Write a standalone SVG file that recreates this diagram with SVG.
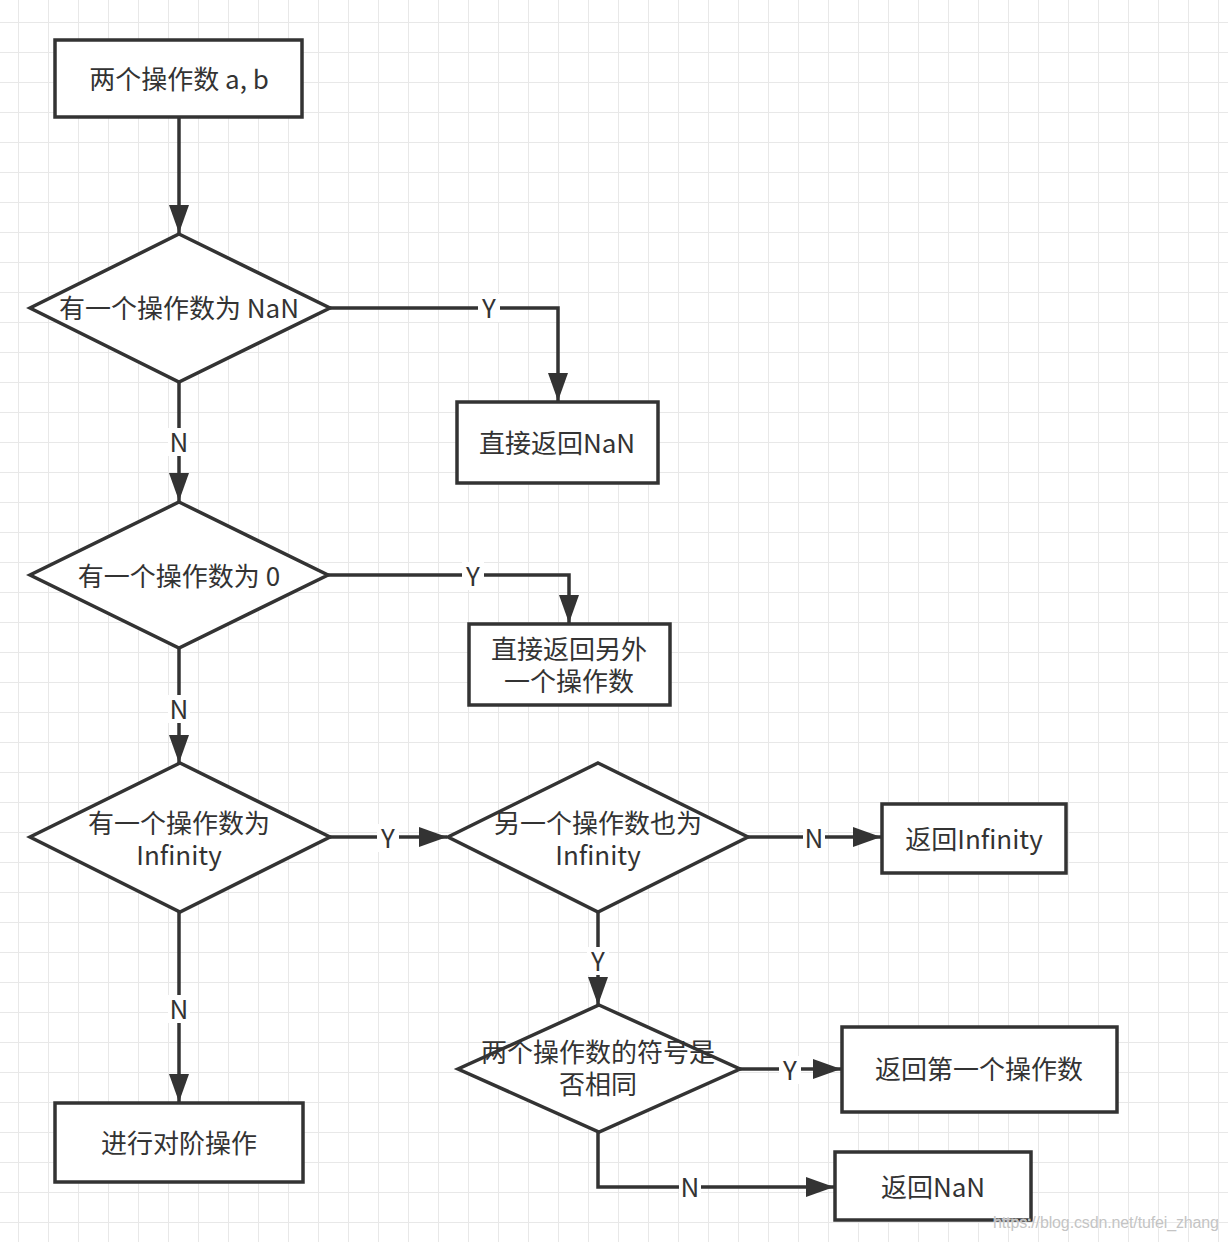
<svg xmlns="http://www.w3.org/2000/svg" width="1228" height="1242" viewBox="0 0 1228 1242">
<defs>
<pattern id="grid" x="18" y="22" width="30" height="30" patternUnits="userSpaceOnUse">
<path d="M0,0 V30 M0,0 H30" fill="none" stroke="#e8e8e8" stroke-width="2"/>
</pattern>
<marker id="arr" markerUnits="userSpaceOnUse" markerWidth="30" markerHeight="22" refX="28" refY="10" orient="auto" viewBox="0 0 30 22">
<path d="M0,0 L28,10 L0,20 Z" fill="#333"/>
</marker>
<style>
.box{fill:#fff;stroke:#333;stroke-width:3.5}
.t{font-family:"Noto Sans CJK SC","Noto Sans",sans-serif;font-size:26px;fill:#333;text-anchor:middle;dominant-baseline:central}
.c{fill:none;stroke:#333;stroke-width:3.5}
.lb{fill:#fff}
</style>
</defs>
<rect width="1228" height="1242" fill="#fff"/>
<rect width="1228" height="1242" fill="url(#grid)"/>

<g id="connectors">
<path class="c" d="M179,118 V233" marker-end="url(#arr)"/>
<path class="c" d="M330,308 H558 V401" marker-end="url(#arr)"/>
<path class="c" d="M179,382 V501" marker-end="url(#arr)"/>
<path class="c" d="M328,575 H569 V623" marker-end="url(#arr)"/>
<path class="c" d="M179,648 V763" marker-end="url(#arr)"/>
<path class="c" d="M330,837 H447" marker-end="url(#arr)"/>
<path class="c" d="M748,837 H881" marker-end="url(#arr)"/>
<path class="c" d="M598,912 V1005" marker-end="url(#arr)"/>
<path class="c" d="M740,1069 H841" marker-end="url(#arr)"/>
<path class="c" d="M598,1132 V1187 H834" marker-end="url(#arr)"/>
<path class="c" d="M179,912 V1102" marker-end="url(#arr)"/>
<g id="labels">
<rect class="lb" x="478" y="294" width="22" height="28"/><text class="t" x="489" y="306">Y</text>
<rect class="lb" x="168" y="428" width="22" height="28"/><text class="t" x="179" y="440">N</text>
<rect class="lb" x="462" y="562" width="22" height="28"/><text class="t" x="473" y="574">Y</text>
<rect class="lb" x="168" y="695" width="22" height="28"/><text class="t" x="179" y="707">N</text>
<rect class="lb" x="377" y="824" width="22" height="28"/><text class="t" x="388" y="836">Y</text>
<rect class="lb" x="803" y="824" width="22" height="28"/><text class="t" x="814" y="836">N</text>
<rect class="lb" x="587" y="947" width="22" height="28"/><text class="t" x="598" y="959">Y</text>
<rect class="lb" x="168" y="995" width="22" height="28"/><text class="t" x="179" y="1007">N</text>
<rect class="lb" x="779" y="1056" width="22" height="28"/><text class="t" x="790" y="1068">Y</text>
<rect class="lb" x="679" y="1173" width="22" height="28"/><text class="t" x="690" y="1185">N</text>
</g>
</g>

<g id="n-start"><rect class="box" x="55" y="40" width="247" height="77"/><text class="t" x="179" y="77">两个操作数 a, b</text></g>
<g id="d-nan"><polygon class="box" points="179,234 330,308 179,382 30,308"/><text class="t" x="179" y="306">有一个操作数为 NaN</text></g>
<g id="n-ret-nan"><rect class="box" x="457" y="402" width="201" height="81"/><text class="t" x="557" y="441">直接返回NaN</text></g>
<g id="d-zero"><polygon class="box" points="179,502 328,575 179,648 30,575"/><text class="t" x="179" y="574">有一个操作数为 0</text></g>
<g id="n-ret-other"><rect class="box" x="469" y="624" width="201" height="81"/><text class="t"><tspan x="569" y="647">直接返回另外</tspan><tspan x="569" y="679">一个操作数</tspan></text></g>
<g id="d-inf"><polygon class="box" points="180,763 330,837 180,912 30,837"/><text class="t"><tspan x="179" y="821">有一个操作数为</tspan><tspan x="179" y="853">Infinity</tspan></text></g>
<g id="d-inf2"><polygon class="box" points="598,763 748,837 598,912 448,837"/><text class="t"><tspan x="598" y="821">另一个操作数也为</tspan><tspan x="598" y="853">Infinity</tspan></text></g>
<g id="n-ret-inf"><rect class="box" x="882" y="804" width="184" height="69"/><text class="t" x="974" y="837">返回Infinity</text></g>
<g id="d-sign"><polygon class="box" points="599,1005 740,1069 599,1132 458,1069"/><text class="t"><tspan x="598" y="1050">两个操作数的符号是</tspan><tspan x="598" y="1082">否相同</tspan></text></g>
<g id="n-ret-first"><rect class="box" x="842" y="1027" width="275" height="85"/><text class="t" x="979" y="1067">返回第一个操作数</text></g>
<g id="n-ret-nan2"><rect class="box" x="835" y="1152" width="196" height="68"/><text class="t" x="933" y="1185">返回NaN</text></g>
<g id="n-align"><rect class="box" x="55" y="1103" width="248" height="79"/><text class="t" x="179" y="1141">进行对阶操作</text></g>

<text x="993" y="1228" font-family="Liberation Sans, Arial, sans-serif" font-size="16" fill="#c4c4c4" stroke="#ffffff" stroke-width="0.5" paint-order="stroke" textLength="226">https://blog.csdn.net/tufei_zhang</text>
</svg>
